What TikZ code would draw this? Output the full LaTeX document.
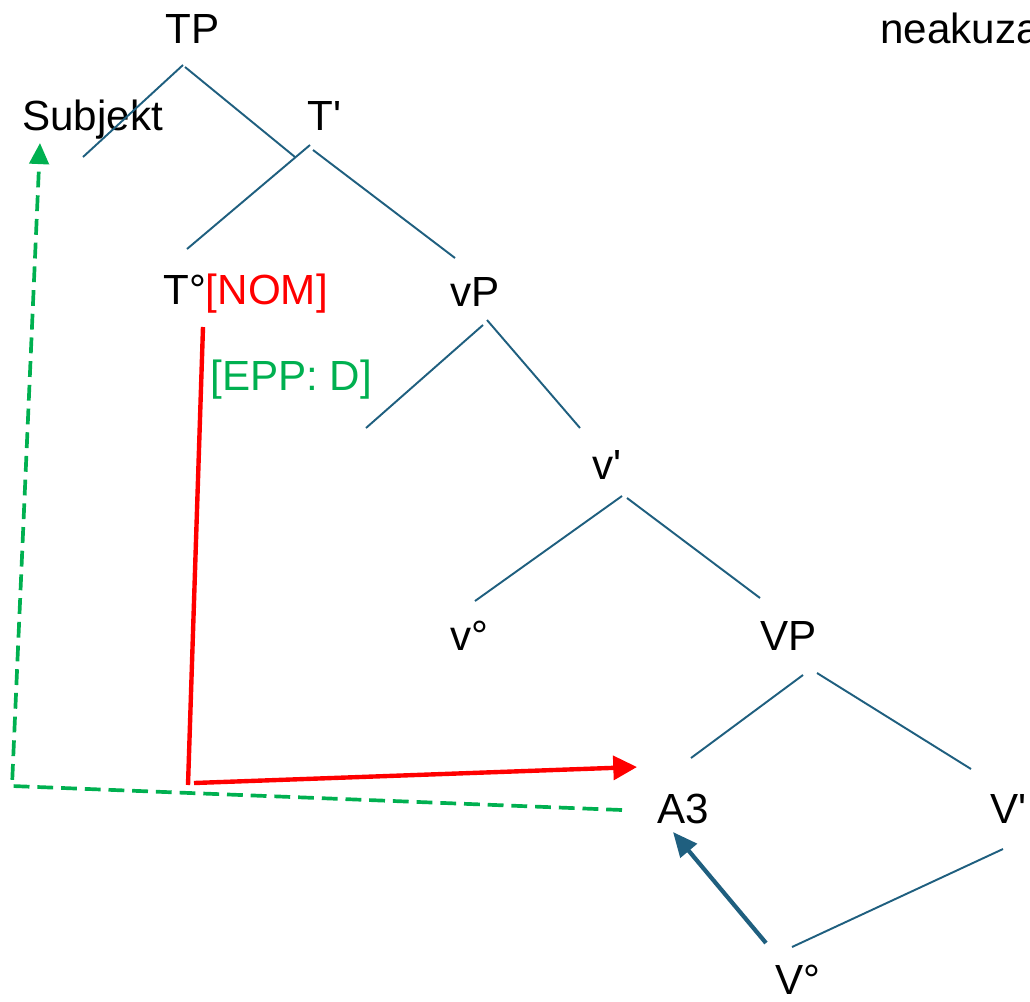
\documentclass[tikz,border=0pt]{standalone}
\usepackage{fontspec}
\setmainfont{Liberation Sans}
\usetikzlibrary{arrows.meta}
\definecolor{branch}{RGB}{31,95,127}
\definecolor{feat}{RGB}{0,176,80}
\definecolor{agree}{RGB}{255,0,0}
\newcommand{\xbar}{\textquotesingle}
\begin{document}
\begin{tikzpicture}[x=0.02cm,y=-0.02cm,
  lbl/.style={anchor=base west,inner sep=0pt,font=\fontsize{24}{28}\selectfont},
  branchline/.style={draw=branch,line width=1.1pt},
  movearrow/.style={draw=branch,line width=2.4pt,-{Triangle[length=14pt,width=12pt]}},
  agreeline/.style={draw=agree,line width=2.5pt},
  agreearrow/.style={agreeline,-{Triangle[length=13.5pt,width=13.5pt]}},
  epparrow/.style={draw=feat,line width=2.1pt,dash pattern=on 9pt off 4.5pt,
                   -{Triangle[length=12pt,width=11pt]}}]
\useasboundingbox (0,0) rectangle (1030,1001);

% labels
\node[lbl] (TP)   at (165,43)  {TP};
\node[lbl] (subj) at (22,130)  {Subjekt};
\node[lbl] (Tbar) at (307,130) {T\xbar};
\node[lbl] (T0)   at (163,304) {T°\textcolor{agree}{[NOM]}};
\node[lbl,text=feat] (epp) at (210,390) {[EPP: D]};
\node[lbl] (vP)   at (450,306) {vP};
\node[lbl] (vbar) at (592,479) {v\xbar};
\node[lbl] (v0)   at (450,650) {v°};
\node[lbl] (VP)   at (760,650) {VP};
\node[lbl] (A3)   at (657,823) {A3};
\node[lbl] (Vbar) at (990,823) {V\xbar};
\node[lbl] (V0)   at (775,994) {V°};
\node[lbl] (neak) at (880,43)  {neakuza};

% branch end points
\coordinate (TPl) at (183,65);   \coordinate (TPla) at (83,157);
\coordinate (TPr) at (185,67);   \coordinate (TPra) at (295,157);
\coordinate (Tbl) at (310,145);  \coordinate (Tbla) at (187,249);
\coordinate (Tbr) at (313,150);  \coordinate (Tbra) at (455,258);
\coordinate (vPl) at (483,325);  \coordinate (vPla) at (366,428);
\coordinate (vPr) at (487,320);  \coordinate (vPra) at (580,428);
\coordinate (vbl) at (622,496);  \coordinate (vbla) at (475,601);
\coordinate (vbr) at (627,498);  \coordinate (vbra) at (760,598);
\coordinate (VPl) at (803,675);  \coordinate (VPla) at (691,758);
\coordinate (VPr) at (817,673);  \coordinate (VPra) at (971,769);
\coordinate (Vbl) at (1003,849); \coordinate (Vbla) at (792,947);

% tree branches
\draw[branchline] (TPl) -- (TPla);
\draw[branchline] (TPr) -- (TPra);
\draw[branchline] (Tbl) -- (Tbla);
\draw[branchline] (Tbr) -- (Tbra);
\draw[branchline] (vPl) -- (vPla);
\draw[branchline] (vPr) -- (vPra);
\draw[branchline] (vbl) -- (vbla);
\draw[branchline] (vbr) -- (vbra);
\draw[branchline] (VPl) -- (VPla);
\draw[branchline] (VPr) -- (VPra);
\draw[branchline] (Vbl) -- (Vbla);

% V° raises to A3
\coordinate (Vmv) at (766,943);
\coordinate (A3in) at (673,832);
\draw[movearrow] (Vmv) -- (A3in);

% NOM agreement from T° down to A3
\coordinate (nomtop) at (203,327);
\coordinate (nomcorner) at (188,785);
\coordinate (nomstart) at (194,783);
\coordinate (A3red) at (637,767);
\draw[agreeline] (nomtop) -- (nomcorner);
\draw[agreearrow] (nomstart) -- (A3red);

% EPP movement of A3 to the subject position
\coordinate (A3green) at (622,810);
\coordinate (eppcorner) at (12,786);
\coordinate (subjin) at (40,143);
\draw[epparrow] (A3green) -- (eppcorner) -- (subjin);
\end{tikzpicture}
\end{document}
